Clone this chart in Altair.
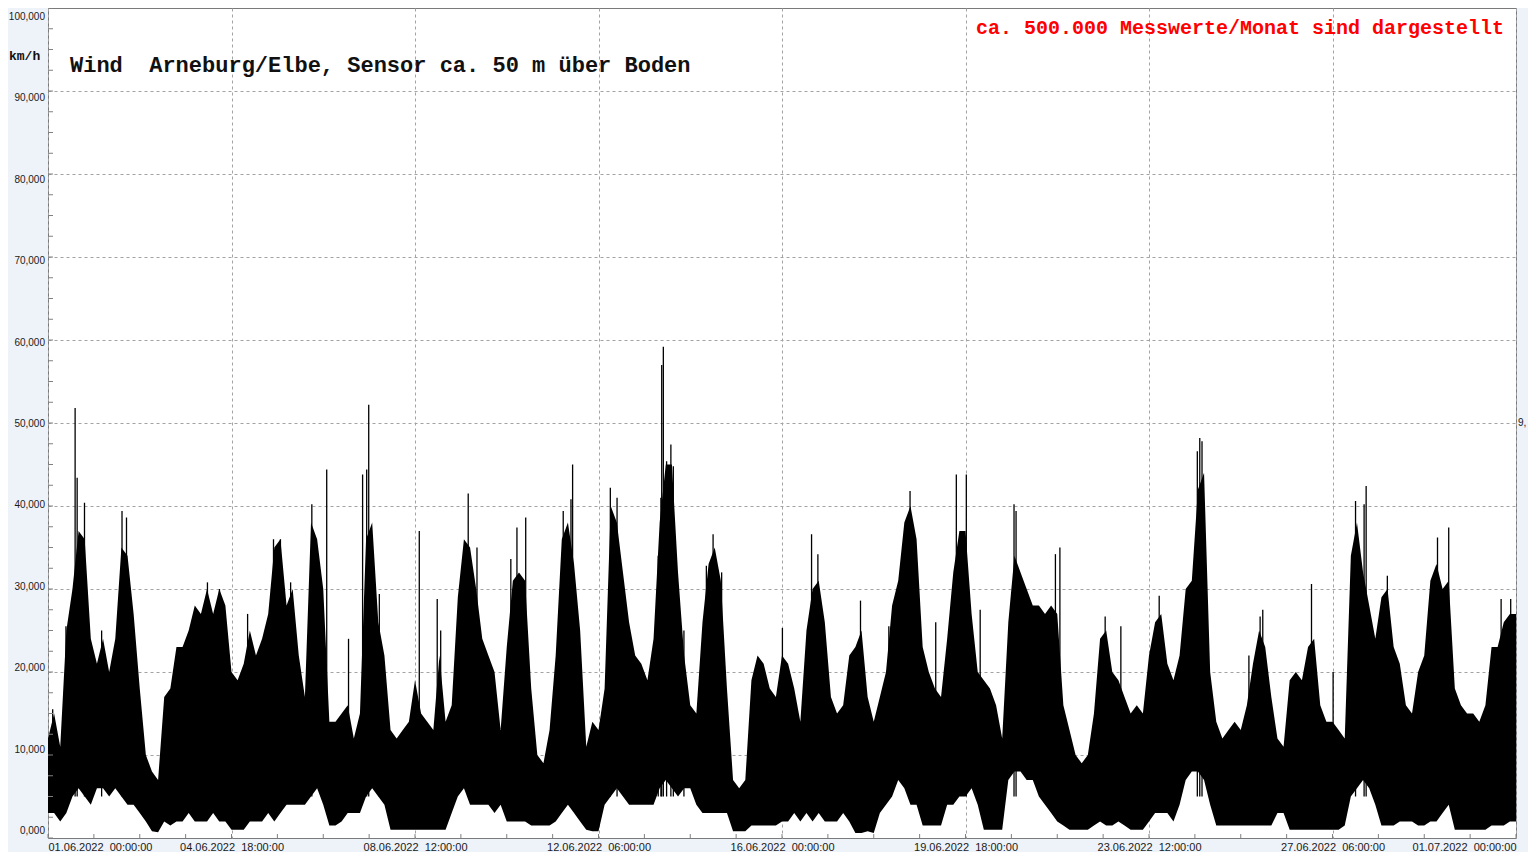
import altair as alt
import pandas as pd

# ---- data (wind speed, km/h) ----
STEP_H = 3  # one envelope sample every 3 hours, 01.06.2022 00:00 .. 01.07.2022 00:00

hi = [
    # 01.06 - 07.06 (h 0..144)
    12, 15, 11, 25, 30, 37, 36, 24, 21, 24, 20, 24, 35, 34, 27, 18, 10, 8, 7, 17,
    18, 23, 23, 25, 28, 27, 30, 27, 30, 28, 20, 19, 21, 25, 22, 24, 27, 35, 36, 28,
    30, 22, 17, 38, 36, 30, 14, 14, 15,
    # h 147..291
    16, 12, 15, 36, 38, 26, 22, 13, 12, 13, 14, 19, 15, 14, 13, 22, 14, 16, 29, 36,
    35, 30, 24, 22, 20, 13, 23, 31, 32, 31, 18, 10, 9, 13, 22, 36, 38, 33, 25, 11,
    14, 13, 18, 40, 38, 32, 26, 22, 21,
    # h 294..438
    19, 24, 38, 45, 45, 32, 22, 16, 15, 26, 33, 35, 31, 18, 7, 6, 7, 19, 22, 21,
    18, 17, 22, 21, 18, 14, 25, 30, 31, 26, 17, 15, 16, 22, 23, 25, 17, 14, 17, 20,
    28, 31, 38, 40, 36, 23, 20, 18, 17,
    # h 441..585
    24, 32, 37, 37, 27, 20, 19, 18, 16, 12, 26, 34, 32, 30, 28, 28, 27, 28, 27, 16,
    13, 10, 9, 10, 15, 24, 25, 20, 19, 17, 15, 16, 15, 22, 26, 27, 21, 19, 22, 30,
    31, 42, 44, 20, 14, 12, 13, 14, 13,
    # h 588..720
    16, 21, 25, 23, 17, 12, 11, 19, 20, 19, 23, 24, 16, 14, 14, 13, 12, 34, 38, 32,
    28, 24, 29, 30, 23, 21, 16, 15, 20, 22, 31, 33, 30, 31, 18, 16, 15, 15, 14, 16,
    23, 23, 26, 27, 27,
]

lo = [
    3, 3, 2, 3, 5, 6, 5, 4, 6, 6, 5, 6, 5, 4, 4, 3, 2, 0.8, 0.7,
    2, 1.5, 2, 2, 3, 2, 2, 2, 3, 2, 2, 1, 1, 1, 2, 2, 2, 3, 2, 3, 4, 4, 4, 4, 5, 6, 4,
    1.5, 1.5, 2,
    3, 3, 3, 5, 6, 5, 4, 1, 1, 1, 1, 1, 1, 1, 1, 1, 1, 3, 5, 6, 4, 4, 4, 4, 3, 4,
    2, 2, 2, 2, 1.5, 1.5, 1.5, 1.5, 2, 3, 4, 3, 2, 1, 0.8, 0.8, 4, 5, 6, 5, 4, 4, 4,
    4, 4, 6, 7, 6, 5, 6, 6, 4, 3, 3, 3, 3, 3, 0.8, 0.8, 0.8, 1.5, 1.5, 1.5, 1.5, 1.5, 2,
    2, 3, 2, 3, 2, 3, 2, 2, 2, 3, 2, 0.6, 0.6, 0.8, 0.6, 3, 4, 5, 7, 6, 4, 4,
    1.5, 1.5, 1.5, 1.5,
    4, 4, 5, 5, 6, 4, 1, 1, 1, 1, 7, 8, 8, 7, 7, 5, 4, 3, 2, 1.5, 1, 1, 1, 1,
    1.5, 2, 1.5, 1.5, 2, 1.5, 1, 1, 1, 2, 3, 3, 3, 2, 4, 7, 8, 8, 7, 4,
    1.5, 1.5, 1.5, 1.5, 1.5,
    1.5, 1.5, 1.5, 1.5, 1.5, 3, 3, 1, 1, 1, 1, 1, 1, 1, 1, 1, 1.5, 5, 6, 7, 6, 4,
    1.5, 1.5, 1.5, 2, 2, 2, 1.5, 1.5, 2, 2, 3, 4, 1, 1, 1, 1, 1, 1, 1.5, 1.5, 1.5,
    2, 2,
]

spike_h = [
    2.3, 8.8, 13.3, 14.3, 17.9, 26.3, 36.3, 38.5, 78.2, 84.1, 97.9, 110.6, 114, 119,
    129.4, 136.7,
    147.4, 154.3, 156.3, 157.3, 162.5, 182.1, 190.9, 192.6, 206.1, 210.4, 227.0, 230,
    234.3, 252.7, 256.5, 257.3, 275.8, 279.1,
    299.3, 300.6, 301, 301.8, 303.4, 305.5, 306.7, 311.9, 322.9, 326.2, 330.4, 360.2,
    374.5, 377.6, 398.5, 412.4, 422.8, 435.4,
    445.5, 450.4, 457.2, 473.8, 474.8, 494.1, 496.3, 518.5, 526.2, 545, 563.7, 564.9,
    566,
    589, 594.5, 595.8, 619.7, 630.3, 641.3, 645.5, 646.5, 656.9, 681.5, 687, 712.7,
    717.4,
]
spike_v = [
    15.5, 25.5, 51.8, 43.4, 40.4, 25, 39.4, 38.6, 30.8, 30, 27, 36, 36, 30.8,
    40.2, 44.4,
    24, 43.8, 44.4, 52.2, 29.4, 37, 28.8, 25, 41.5, 35, 33.6, 37.4,
    38.6, 39.4, 40.8, 45, 42.2, 41,
    34, 41, 57, 59.2, 45.4, 47.4, 44.8, 25, 32.8, 36.6, 32, 25.3,
    36.6, 34.2, 28.6, 25.5, 41.8, 26,
    43.8, 43.8, 27.5, 40.2, 39.4, 34.2, 35, 26.7, 25.5, 29.2, 46.6, 48.2,
    47.8,
    22, 26.7, 27.5, 30.6, 20, 40.6, 40.2, 42.4, 31.6, 36.2, 37.4, 28.8,
    28.8,
]

x_tick_hours = [0, 90, 180, 270, 360, 450, 540, 630, 720]
x_tick_labels = [
    "01.06.2022  00:00:00", "04.06.2022  18:00:00", "08.06.2022  12:00:00",
    "12.06.2022  06:00:00", "16.06.2022  00:00:00", "19.06.2022  18:00:00",
    "23.06.2022  12:00:00", "27.06.2022  06:00:00", "01.07.2022  00:00:00",
]
x_minor_hours = [i * 22.5 for i in range(33)]
y_grid = [10, 20, 30, 40, 50, 60, 70, 80, 90]
y_labels = [0, 10, 20, 30, 40, 50, 60, 70, 80, 90, 100]
y_minor = [i * 2.5 for i in range(41)]

title_text = "Wind  Arneburg/Elbe, Sensor ca. 50 m über Boden"
note_text = "ca. 500.000 Messwerte/Monat sind dargestellt"
unit_text = "km/h"
right_text = "9,"

NB = "\u00a0"

# ---- chart ----
W, H = 1468, 830
GRID = "#a3a3a3"

df_env = pd.DataFrame({"h": [i * STEP_H for i in range(len(hi))], "hi": hi, "lo": lo})
df_spk = pd.DataFrame({"h": spike_h, "v": spike_v})

arr = "[" + ",".join("'" + s.replace("  ", NB + " ") + "'" for s in x_tick_labels) + "]"
label_expr = arr + "[round(datum.value/90)]"

xscale = alt.Scale(domain=[0, 720], nice=False, zero=False)
yscale = alt.Scale(domain=[0, 100], nice=False)

area = alt.Chart(df_env).mark_area(color="black", interpolate="linear", strokeWidth=0).encode(
    x=alt.X("h:Q", scale=xscale, axis=alt.Axis(
        values=x_tick_hours, labelExpr=label_expr, labelFlush=True, tickSize=0,
        domain=False, grid=True, gridColor=GRID, gridDash=[3, 3], gridWidth=1,
        labelFont="Liberation Sans", labelFontSize=11, labelColor="#1a1a1a",
        labelPadding=3, title=None)),
    y=alt.Y("hi:Q", scale=yscale, axis=alt.Axis(
        values=y_grid, labels=False, ticks=False, domain=False, grid=True,
        gridColor=GRID, gridDash=[3, 3], gridWidth=1, title=None)),
    y2="lo:Q",
)

spikes = alt.Chart(df_spk).mark_rule(color="black", strokeWidth=1.3).encode(
    x="h:Q", y="v:Q", y2=alt.datum(5)
)

xticks = alt.Chart(pd.DataFrame({"h": x_minor_hours})).mark_rule(color="#808080").encode(
    x="h:Q", y=alt.value(H), y2=alt.value(H - 4)
)
yticks = alt.Chart(pd.DataFrame({"v": y_minor})).mark_rule(color="#808080").encode(
    y="v:Q", x=alt.value(0), x2=alt.value(5)
)

ylab = alt.Chart(pd.DataFrame({"v": y_labels})).transform_calculate(
    lab="replace(format(datum.v, '.3f'), '.', ',')",
    yp="datum.v + 0.85 - datum.v * 0.0194",
).mark_text(align="right", baseline="middle", font="Liberation Sans", fontSize=10,
            color="#1a1a1a").encode(x=alt.value(-3), y=alt.Y("yp:Q"), text="lab:N")

right_lab = alt.Chart(pd.DataFrame({"v": [50], "t": [right_text]})).mark_text(
    align="left", baseline="middle", font="Liberation Sans", fontSize=10, color="#1a1a1a"
).encode(x=alt.value(W + 2), y="v:Q", text="t:N")

title = alt.Chart(pd.DataFrame({"t": [title_text.replace("  ", NB + " ")]})).mark_text(
    align="left", baseline="middle", font="Liberation Mono", fontSize=22,
    fontWeight="bold", color="#111111"
).encode(x=alt.value(22), y=alt.value(57), text="t:N")

note = alt.Chart(pd.DataFrame({"t": [note_text]})).mark_text(
    align="right", baseline="middle", font="Liberation Mono", fontSize=20,
    fontWeight="bold", color="#ff0000"
).encode(x=alt.value(1456), y=alt.value(20), text="t:N")

unit = alt.Chart(pd.DataFrame({"t": [unit_text]})).mark_text(
    align="left", baseline="middle", font="Liberation Mono", fontSize=13,
    fontWeight="bold", color="#111111"
).encode(x=alt.value(-39), y=alt.value(48), text="t:N")

chart = alt.layer(area, spikes, xticks, yticks, ylab, right_lab, title, note, unit).properties(
    width=W, height=H,
    autosize=alt.AutoSizeParams(type="none"),
    padding={"left": 40, "top": 0, "right": 12, "bottom": 14},
    background="#eef2f9",
).configure_view(stroke="#7a7a7a", strokeWidth=1, fill="white")

chart.save("out.html", embed_options={"renderer": "svg", "actions": False})
